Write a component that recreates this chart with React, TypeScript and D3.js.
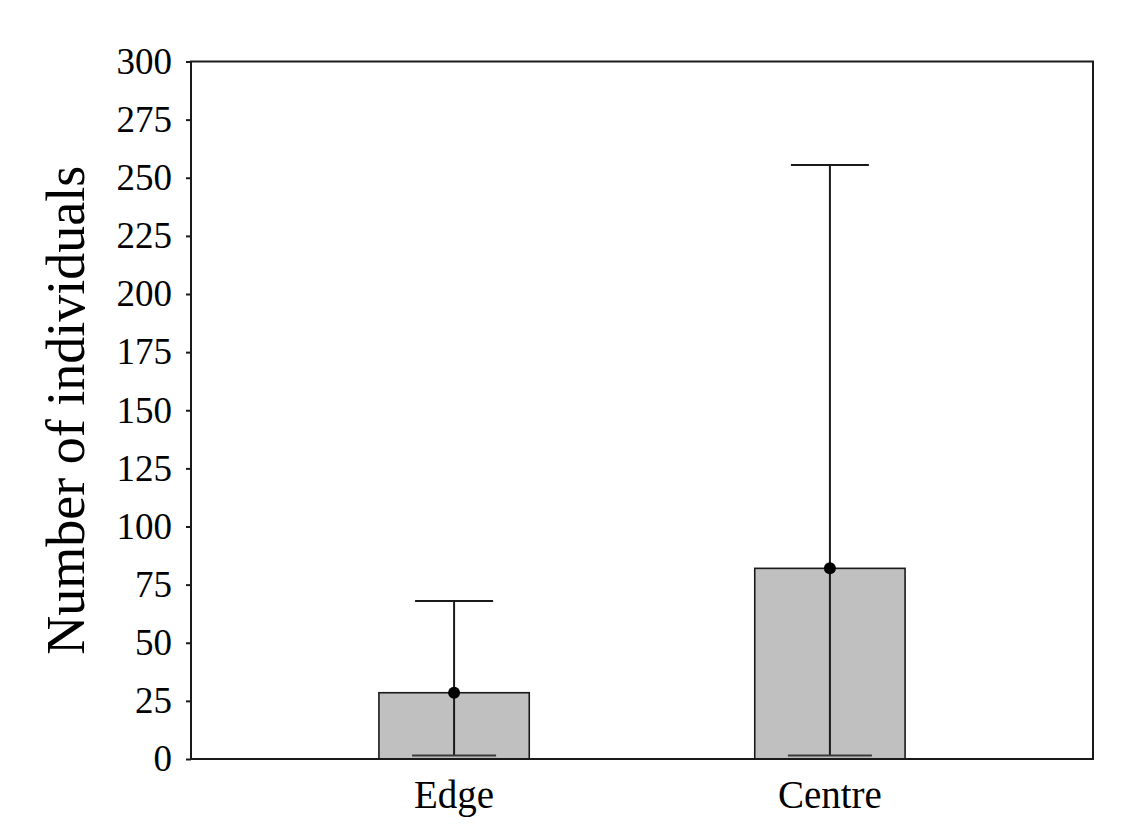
import React, { useEffect, useRef } from 'react';
import * as d3 from 'd3';

// categories and values
const categories = ['Edge', 'Centre'];
const meanValues = [28.5, 82];
const upperValues = [68, 255.5];
const lowerValues = [1.5, 1.5];
const yTicks = [0, 25, 50, 75, 100, 125, 150, 175, 200, 225, 250, 275, 300];

const width = 1134;
const height = 827;
const margin = { top: 61.5, right: 41, bottom: 68, left: 191 };
const fontFamily = '"Liberation Serif", "Times New Roman", serif';

const App: React.FC = () => {
    const ref = useRef<SVGSVGElement>(null);

    useEffect(() => {
        const svg = d3.select(ref.current);
        svg.selectAll('*').remove();

        const x0 = margin.left;
        const x1 = width - margin.right;
        const y0 = height - margin.bottom;
        const y1 = margin.top;

        const xScale = d3
            .scaleBand()
            .domain(categories)
            .range([x0, x1])
            .paddingInner(0.6)
            .paddingOuter(0.5);

        const yScale = d3.scaleLinear().domain([0, 300]).range([y0, y1]);

        const rows = categories.map((c, i) => ({
            name: c,
            mean: meanValues[i],
            hi: upperValues[i],
            lo: lowerValues[i],
        }));

        // bars
        svg.append('g')
            .selectAll('rect')
            .data(rows)
            .enter()
            .append('rect')
            .attr('x', (d) => xScale(d.name) ?? 0)
            .attr('y', (d) => yScale(d.mean))
            .attr('width', xScale.bandwidth())
            .attr('height', (d) => y0 - yScale(d.mean))
            .attr('fill', '#c0c0c0')
            .attr('stroke', '#1a1a1a')
            .attr('stroke-width', 1.6);

        // error bars: vertical line from lower to upper value, with caps
        const capHalf = 39;
        const errG = svg.append('g').attr('stroke', '#1a1a1a').attr('stroke-width', 2);
        rows.forEach((d) => {
            const cx = (xScale(d.name) ?? 0) + xScale.bandwidth() / 2;
            errG.append('line')
                .attr('x1', cx).attr('x2', cx)
                .attr('y1', yScale(d.lo)).attr('y2', yScale(d.hi));
            errG.append('line')
                .attr('x1', cx - capHalf).attr('x2', cx + capHalf)
                .attr('y1', yScale(d.hi)).attr('y2', yScale(d.hi));
            errG.append('line')
                .attr('x1', cx - capHalf - 3).attr('x2', cx + capHalf + 3)
                .attr('y1', yScale(d.lo)).attr('y2', yScale(d.lo))
                .attr('stroke', '#3a3a3a');
        });

        // mean points
        svg.append('g')
            .selectAll('circle')
            .data(rows)
            .enter()
            .append('circle')
            .attr('cx', (d) => (xScale(d.name) ?? 0) + xScale.bandwidth() / 2)
            .attr('cy', (d) => yScale(d.mean))
            .attr('r', 6)
            .attr('fill', '#000');

        // frame
        svg.append('rect')
            .attr('x', x0)
            .attr('y', y1)
            .attr('width', x1 - x0)
            .attr('height', y0 - y1)
            .attr('fill', 'none')
            .attr('stroke', '#1a1a1a')
            .attr('stroke-width', 2);

        // y axis
        const yAxis = svg
            .append('g')
            .attr('transform', `translate(${x0},0)`)
            .call(d3.axisLeft(yScale).tickValues(yTicks).tickSize(5).tickSizeOuter(0).tickPadding(14));
        yAxis.select('.domain').remove();
        yAxis.selectAll('line').attr('stroke', '#1a1a1a').attr('stroke-width', 2);
        yAxis.selectAll('text')
            .attr('fill', '#000')
            .style('font-family', fontFamily)
            .style('font-size', '37px');

        // x axis labels
        const xAxis = svg
            .append('g')
            .attr('transform', `translate(0,${y0})`)
            .call(d3.axisBottom(xScale).tickSize(0).tickPadding(21));
        xAxis.select('.domain').remove();
        xAxis.selectAll('text')
            .attr('fill', '#000')
            .style('font-family', fontFamily)
            .style('font-size', '39px');

        // y axis label
        svg.append('text')
            .attr('transform', `translate(84,${(y0 + y1) / 2}) rotate(-90)`)
            .attr('text-anchor', 'middle')
            .style('font-family', fontFamily)
            .style('font-size', '54px')
            .attr('fill', '#000')
            .text('Number of individuals');
    }, []);

    return (
        <svg
            ref={ref}
            width={width}
            height={height}
            style={{ position: 'absolute', left: 0, top: 0, background: '#fff' }}
        />
    );
};

export default App;
